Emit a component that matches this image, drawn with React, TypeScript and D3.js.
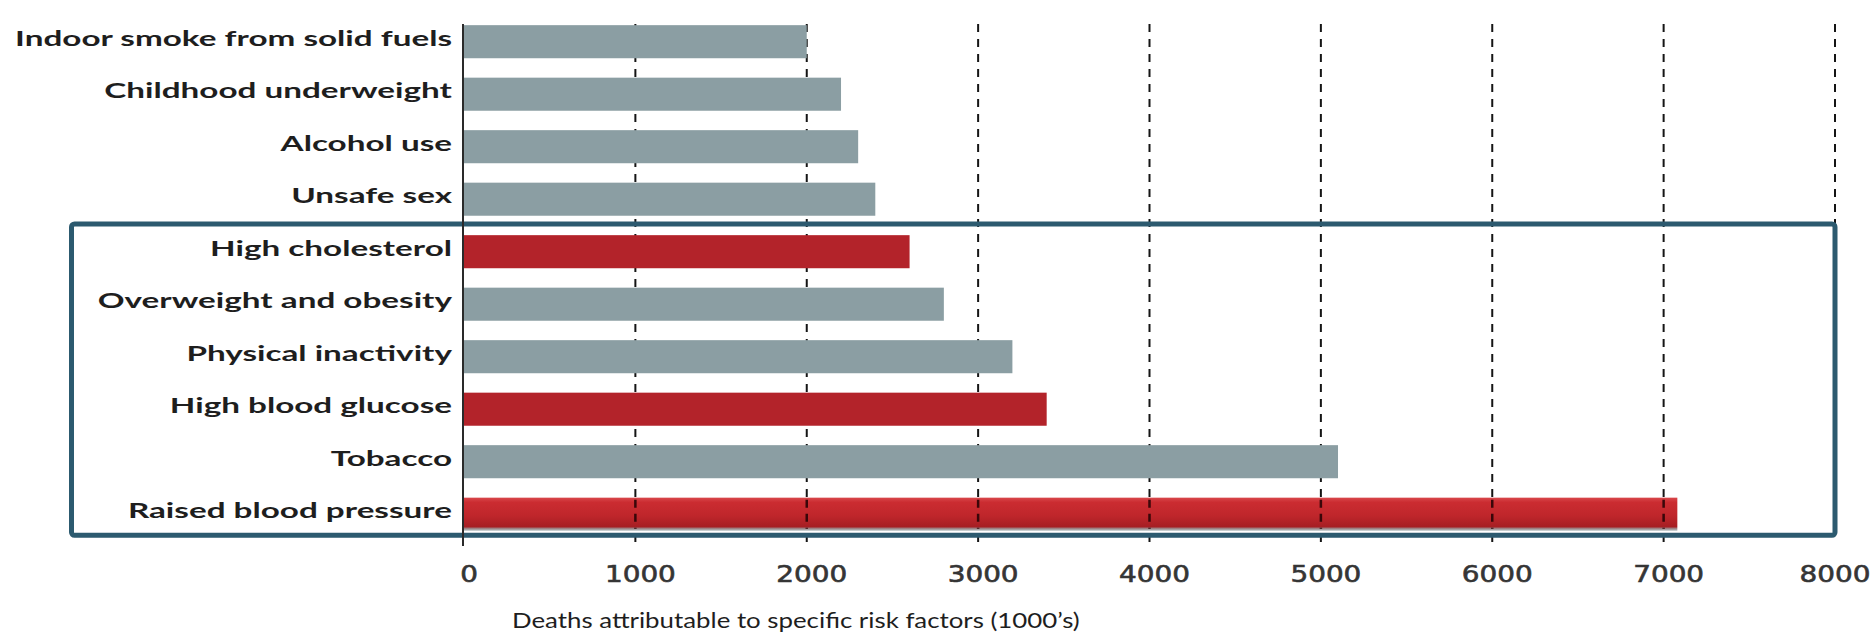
import React, { useLayoutEffect, useRef, useState } from "react";
import * as d3 from "d3";

// Risk factors, top to bottom
const categories = [
  "Indoor smoke from solid fuels",
  "Childhood underweight",
  "Alcohol use",
  "Unsafe sex",
  "High cholesterol",
  "Overweight and obesity",
  "Physical inactivity",
  "High blood glucose",
  "Tobacco",
  "Raised blood pressure",
];

// Deaths attributable to each risk factor (thousands)
const deaths = [2000, 2200, 2300, 2400, 2600, 2800, 3200, 3400, 5100, 7080];

// Metabolic risk factors drawn in red
const metabolic = [false, false, false, false, true, false, false, true, false, true];

// Risk factors enclosed in the framed group
const framedGroup = [
  "High cholesterol",
  "Overweight and obesity",
  "Physical inactivity",
  "High blood glucose",
  "Tobacco",
  "Raised blood pressure",
];

const xTicks = [0, 1000, 2000, 3000, 4000, 5000, 6000, 7000, 8000];
const xTitle = "Deaths attributable to specific risk factors (1000\u2019s)";

const W = 1876;
const H = 635;

const GRAY = "#8b9ea3";
const RED = "#b3232a";
const FRAME = "#2c5a6f";

export default function App() {
  const x = d3.scaleLinear().domain([0, 8000]).range([464, 1835]);
  const y = d3
    .scaleBand<string>()
    .domain(categories)
    .range([15.45, 540.45])
    .paddingInner(0.37)
    .paddingOuter(0.185);
  const bw = y.bandwidth();
  const gap = y.step() - bw;

  const labelRef = useRef<SVGTextElement>(null);
  const tickRef = useRef<SVGTextElement>(null);
  const titleRef = useRef<SVGTextElement>(null);
  const [stretch, setStretch] = useState({ label: 1, tick: 1, title: 1 });

  useLayoutEffect(() => {
    const l = labelRef.current ? labelRef.current.getComputedTextLength() : 0;
    const t = tickRef.current ? tickRef.current.getComputedTextLength() : 0;
    const ti = titleRef.current ? titleRef.current.getComputedTextLength() : 0;
    setStretch({
      label: l ? 437 / l : 1,
      tick: t ? 71 / t : 1,
      title: ti ? 568 / ti : 1,
    });
  }, []);

  const frameTop = (y(framedGroup[0]) as number) - gap / 2 - 1.5;
  const frameBottom = (y(framedGroup[framedGroup.length - 1]) as number) + bw + 4.5;
  const frameLeft = 71.5;
  const frameRight = x(8000);

  const axisTop = 24;
  const axisBottom = 546;

  const bpIndex = categories.length - 1;
  const bpName = categories[bpIndex];
  const bpTop = y(bpName) as number;

  return (
    <svg
      width={W}
      height={H}
      viewBox={`0 0 ${W} ${H}`}
      style={{ position: "absolute", left: 0, top: 0, background: "#fff" }}
    >
      <defs>
        <linearGradient id="bpFill" x1="0" y1="0" x2="0" y2="1">
          <stop offset="0" stopColor="#d9474b" />
          <stop offset="0.14" stopColor="#cb2c31" />
          <stop offset="0.55" stopColor="#bf262b" />
          <stop offset="0.88" stopColor="#a61e23" />
          <stop offset="0.94" stopColor="#9c8e90" />
          <stop offset="1" stopColor="#b7c0c2" />
        </linearGradient>
      </defs>
      <rect x={0} y={0} width={W} height={H} fill="#fff" />

      {/* dashed vertical gridlines */}
      {xTicks
        .filter((t) => t > 0)
        .map((t) => (
          <line
            key={`g${t}`}
            x1={x(t)}
            x2={x(t)}
            y1={axisTop}
            y2={t === 8000 ? frameTop : 542}
            stroke="#151515"
            strokeWidth={2}
            strokeDasharray="8 7"
          />
        ))}

      {/* bars */}
      {categories.map((c, i) => (
        <rect
          key={c}
          x={x(0)}
          y={y(c)}
          width={x(deaths[i]) - x(0)}
          height={bw}
          fill={i === bpIndex ? "url(#bpFill)" : metabolic[i] ? RED : GRAY}
        />
      ))}

      {/* gridlines showing through the raised blood pressure bar */}
      {xTicks
        .filter((t) => t > 0 && t < deaths[bpIndex])
        .map((t) => (
          <line
            key={`o${t}`}
            x1={x(t)}
            x2={x(t)}
            y1={bpTop + 2}
            y2={bpTop + bw - 2}
            stroke="#2a0305"
            strokeOpacity={0.9}
            strokeWidth={2.5}
            strokeDasharray="8 6"
          />
        ))}

      {/* frame around the grouped risk factors */}
      <rect
        x={frameLeft}
        y={frameTop}
        width={frameRight - frameLeft}
        height={frameBottom - frameTop}
        fill="none"
        stroke={FRAME}
        strokeWidth={5}
        rx={3}
      />

      {/* value axis baseline */}
      <line x1={x(0) - 1} x2={x(0) - 1} y1={axisTop} y2={axisBottom} stroke="#2a2a2a" strokeWidth={2} />

      {/* category labels */}
      {categories.map((c, i) => (
        <g
          key={`l${c}`}
          transform={`translate(452,${(y(c) as number) + bw / 2 + 4}) scale(${stretch.label},1)`}
        >
          <text
            ref={i === 0 ? labelRef : undefined}
            textAnchor="end"
            fontFamily="Lato, 'Open Sans', sans-serif"
            fontWeight={700}
            fontSize={21}
            fill="#1e1e1e"
          >
            {c}
          </text>
        </g>
      ))}

      {/* tick labels */}
      {xTicks.map((t) => (
        <g key={`t${t}`} transform={`translate(${x(t) + (t === 8000 ? 0 : 5)},582) scale(${stretch.tick},1)`}>
          <text
            ref={t === 1000 ? tickRef : undefined}
            textAnchor="middle"
            fontFamily="'DejaVu Sans', Verdana, sans-serif"
            fontWeight={400}
            fontSize={23}
            fill="#353535"
            stroke="#353535"
            strokeWidth={0.6}
          >
            {t}
          </text>
        </g>
      ))}

      {/* axis title */}
      <g transform={`translate(512,628) scale(${stretch.title},1)`}>
        <text
          ref={titleRef}
          textAnchor="start"
          fontFamily="Lato, 'Open Sans', sans-serif"
          fontWeight={400}
          fontSize={21}
          fill="#1e1e1e"
        >
          {xTitle}
        </text>
      </g>
    </svg>
  );
}
